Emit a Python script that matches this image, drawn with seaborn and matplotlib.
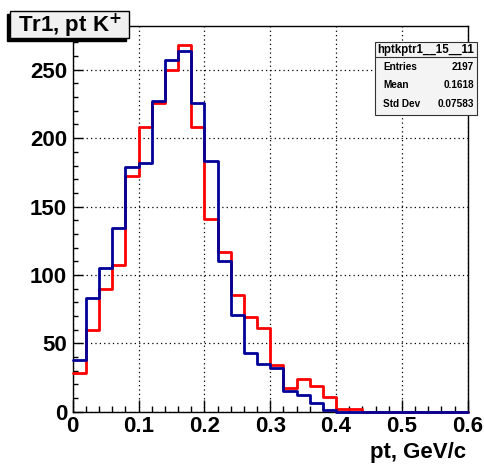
import numpy as np
import pandas as pd
import matplotlib
matplotlib.use("Agg")
import matplotlib.pyplot as plt
import seaborn as sns
from matplotlib.patches import Rectangle
from matplotlib.ticker import MultipleLocator

# ---- data ----
bin_edges = [round(0.02 * i, 2) for i in range(31)]
red_counts = [28, 60, 90, 107, 172, 208, 226, 250, 268, 208, 141, 117, 85, 69, 61,
              34, 17, 24, 19, 11, 2, 2, 0, 0, 0, 0, 0, 0, 0, 0]
blue_counts = [38, 83, 105, 134, 179, 182, 227, 257, 264, 226, 183, 110, 71, 43, 35,
               32, 15, 12, 6, 1, 0, 0, 0, 0, 0, 0, 0, 0, 0, 0]
x_ticks = [0, 0.1, 0.2, 0.3, 0.4, 0.5, 0.6]
x_ticklabels = ["0", "0.1", "0.2", "0.3", "0.4", "0.5", "0.6"]
y_ticks = [0, 50, 100, 150, 200, 250]
y_ticklabels = ["0", "50", "100", "150", "200", "250"]
title_text = r"Tr1, pt K$^{\mathbf{+}}$"
xlabel_text = "pt, GeV/c"
stats_name = "hptkptr1__15__11"
stats_rows = [("Entries", "2197"), ("Mean", "0.1618"), ("Std Dev", "0.07583")]

centers = [(bin_edges[i] + bin_edges[i + 1]) / 2 for i in range(len(bin_edges) - 1)]
df_red = pd.DataFrame({"pt": centers, "n": red_counts})
df_blue = pd.DataFrame({"pt": centers, "n": blue_counts})

sns.set_style("white")
plt.rcParams["font.family"] = ["Liberation Sans", "DejaVu Sans"]
plt.rcParams["mathtext.fontset"] = "dejavusans"
for k in ["text.color", "axes.labelcolor", "xtick.color", "ytick.color",
          "xtick.labelcolor", "ytick.labelcolor"]:
    plt.rcParams[k] = "black"

W, H = 485, 465
fig = plt.figure(figsize=(W / 100, H / 100), dpi=100)
fig.patch.set_facecolor("white")

def fx(px):
    return px / W

def fy(py):
    return 1 - py / H

ax_l, ax_r, ax_t, ax_b = 72.7, 467.7, 26.0, 411.7
ax = fig.add_axes([fx(ax_l), fy(ax_b), (ax_r - ax_l) / W, (ax_b - ax_t) / H])

sns.histplot(data=df_red, x="pt", weights="n", bins=bin_edges, element="step",
             fill=False, color="#ff0000", linewidth=2.0, ax=ax)
sns.histplot(data=df_blue, x="pt", weights="n", bins=bin_edges, element="step",
             fill=False, color="#000099", linewidth=2.0, ax=ax)
for ln in ax.lines:
    ln.set_clip_on(False)
    ln.set_zorder(3)

ax.set_xlim(0, 0.6)
ax.set_ylim(0, 282)
ax.set_xlabel("")
ax.set_ylabel("")

ax.set_xticks(x_ticks)
ax.set_xticklabels(x_ticklabels)
ax.set_yticks(y_ticks)
ax.set_yticklabels(y_ticklabels)
ax.xaxis.set_minor_locator(MultipleLocator(0.02))
ax.yaxis.set_minor_locator(MultipleLocator(10))

for lab in ax.get_xticklabels() + ax.get_yticklabels():
    lab.set_fontweight("bold")
    lab.set_fontsize(16)
    lab.set_color("black")

ax.tick_params(axis="x", which="major", direction="in", length=8.6, width=1,
               color="black", pad=3, bottom=True, top=False)
ax.tick_params(axis="x", which="minor", direction="in", length=4.3, width=1,
               color="black", bottom=True, top=False)
ax.tick_params(axis="y", which="major", direction="in", length=7, width=1,
               color="black", pad=4, left=True, right=False)
ax.tick_params(axis="y", which="minor", direction="in", length=3.5, width=1,
               color="black", left=True, right=False)

ax.grid(True, which="major", color="black", linestyle=(0, (1, 2.5)), linewidth=0.9)
ax.set_axisbelow(True)
for sp in ax.spines.values():
    sp.set_visible(True)
    sp.set_color("black")
    sp.set_linewidth(1.0)

fig.text(fx(466), fy(452), xlabel_text, ha="right", va="center",
         fontsize=16, fontweight="bold", color="black")

# ---- title box ----
tb_l, tb_r, tb_t, tb_b = 10, 129, 11, 38
fig.patches.append(Rectangle((fx(tb_l - 3), fy(tb_b + 3)), (tb_r - tb_l) / W,
                             (tb_b - tb_t) / H, transform=fig.transFigure,
                             facecolor="black", edgecolor="black", zorder=5))
fig.patches.append(Rectangle((fx(tb_l), fy(tb_b)), (tb_r - tb_l) / W,
                             (tb_b - tb_t) / H, transform=fig.transFigure,
                             facecolor="#f0f0f0", edgecolor="black", linewidth=1, zorder=6))
fig.text(fx((tb_l + tb_r) / 2), fy((tb_t + tb_b) / 2 + 1), title_text,
         ha="center", va="center", fontsize=16, fontweight="bold", color="black", zorder=7)

# ---- stats box ----
sb_l, sb_r, sb_t, sb_b = 375, 477, 42, 115
sep = 57.5
fig.patches.append(Rectangle((fx(sb_l + 1.5), fy(sb_b + 1.5)), (sb_r - sb_l) / W,
                             (sb_b - sb_t) / H, transform=fig.transFigure,
                             facecolor="#444444", edgecolor="none", zorder=5))
fig.patches.append(Rectangle((fx(sb_l), fy(sb_b)), (sb_r - sb_l) / W,
                             (sb_b - sb_t) / H, transform=fig.transFigure,
                             facecolor="#f4f4f4", edgecolor="#333333", linewidth=0.8, zorder=6))
fig.lines.append(plt.Line2D([fx(sb_l), fx(sb_r)], [fy(sep), fy(sep)],
                            transform=fig.transFigure, color="#333333",
                            linewidth=0.8, zorder=7))
fig.text(fx((sb_l + sb_r) / 2), fy(49.5), stats_name, ha="center", va="center",
         fontsize=8.3, fontweight="bold", color="black", zorder=8)
for (lab, val), yy in zip(stats_rows, [67, 85.5, 104]):
    fig.text(fx(sb_l + 8), fy(yy), lab, ha="left", va="center",
             fontsize=7.2, fontweight="bold", color="black", zorder=8)
    fig.text(fx(sb_r - 3), fy(yy), val, ha="right", va="center",
             fontsize=7.2, fontweight="bold", color="black", zorder=8)

fig.savefig("out.png", dpi=100, facecolor="white")
